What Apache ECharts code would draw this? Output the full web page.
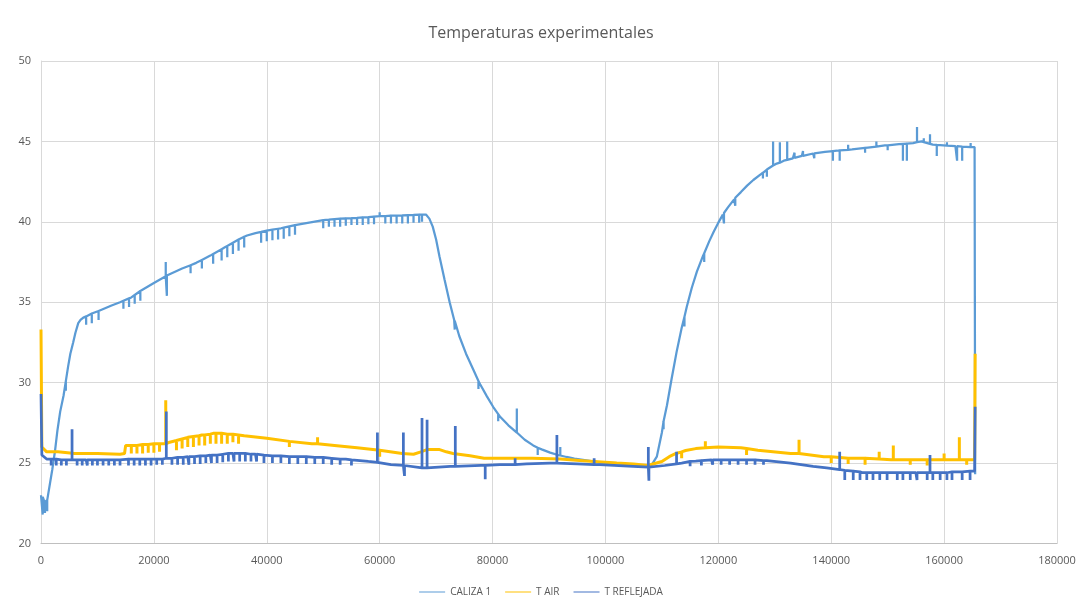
<!DOCTYPE html>
<html>
<head>
<meta charset="utf-8">
<title>Temperaturas experimentales</title>
<script src="https://cdn.jsdelivr.net/npm/echarts@6/dist/echarts.min.js"></script>
<style>
  html, body { margin: 0; padding: 0; background: #ffffff; }
  #chart { width: 1082px; height: 605px; }
</style>
</head>
<body>
<div id="chart"></div>
<script>
// Series names and axis ticks
const seriesNames = ['CALIZA 1', 'T AIR', 'T REFLEJADA'];
const xTicks = [0, 20000, 40000, 60000, 80000, 100000, 120000, 140000, 160000, 180000];
const yTicks = [20, 25, 30, 35, 40, 45, 50];

// Readings [time, temperature]
const calizaBase = [
  [0, 23.0], [600, 22.6], [1300, 22.8], [2000, 24.6], [2500, 25.8], [2900, 27.0], [3400, 28.2],
  [4000, 29.2], [4400, 30.1], [4800, 31.0], [5200, 31.8], [5700, 32.5], [6100, 33.1], [6600, 33.7],
  [7000, 33.9], [7500, 34.05], [9000, 34.3], [10500, 34.5], [12500, 34.8], [14000, 35.0],
  [16000, 35.3], [17600, 35.7], [20000, 36.2], [22500, 36.7], [25000, 37.1], [27500, 37.45],
  [30000, 37.9], [32500, 38.4], [35000, 38.9], [36500, 39.15], [38000, 39.3], [40000, 39.45],
  [42500, 39.6], [45000, 39.8], [47500, 39.95], [50000, 40.1], [53000, 40.2], [56000, 40.25],
  [60000, 40.35], [64000, 40.4], [67000, 40.45], [68200, 40.45], [68800, 40.2], [69400, 39.7],
  [70000, 38.9], [70600, 37.85], [71500, 36.4], [72400, 35.0], [73200, 33.9], [74100, 32.9],
  [75300, 31.8], [76600, 30.8], [77800, 29.9], [79000, 29.15], [80100, 28.5], [81300, 27.9],
  [82800, 27.35], [84300, 26.9], [85700, 26.45], [87200, 26.1], [88700, 25.85], [90200, 25.65],
  [91600, 25.5], [93100, 25.38], [94500, 25.28], [96000, 25.2], [97500, 25.12], [99000, 25.05],
  [102000, 25.0], [104900, 24.9], [107500, 24.8], [108300, 24.95], [109100, 25.4], [110000, 26.9],
  [110900, 28.6], [111700, 30.2], [112600, 31.9], [113500, 33.4], [114400, 34.7], [115300, 35.9],
  [116200, 36.9], [117300, 37.9], [118400, 38.8], [119200, 39.4], [120000, 39.95], [120800, 40.45],
  [121700, 40.9], [122800, 41.4], [124000, 41.85], [125100, 42.25], [126200, 42.6], [127500, 42.95],
  [128800, 43.3], [130200, 43.6], [131600, 43.8], [133200, 43.95], [134800, 44.1], [136800, 44.25],
  [138900, 44.35], [141000, 44.42], [143700, 44.5], [146500, 44.62], [149500, 44.75], [152000, 44.83],
  [154500, 44.9], [156000, 45.0], [158000, 44.8], [162000, 44.7], [165400, 44.65], [165500, 24.3]
];
const airBase = [
  [0, 33.3], [150, 26.0], [1000, 25.7], [3000, 25.7], [6000, 25.6], [10000, 25.6], [14000, 25.55],
  [14800, 25.6], [15000, 26.1], [18000, 26.15], [21500, 26.2], [22800, 26.3], [26000, 26.6],
  [28500, 26.75], [30500, 26.85], [33000, 26.8], [36000, 26.7], [40000, 26.55], [44000, 26.35],
  [48000, 26.2], [52000, 26.1], [56000, 25.95], [60000, 25.8], [64000, 25.6], [66000, 25.55],
  [67300, 25.7], [68500, 25.85], [70500, 25.85], [71800, 25.7], [73000, 25.6], [76000, 25.45],
  [78500, 25.3], [82000, 25.3], [87000, 25.3], [92000, 25.25], [96000, 25.15], [102000, 25.0],
  [105000, 24.95], [107500, 24.85], [110000, 25.1], [111300, 25.4], [112500, 25.6], [114200, 25.78],
  [116000, 25.9], [120000, 26.0], [124000, 25.95], [127000, 25.8], [132800, 25.6], [138700, 25.4],
  [144700, 25.3], [150600, 25.2], [156400, 25.2], [160000, 25.2], [165400, 25.2], [165500, 31.8]
];
const reflBase = [
  [0, 29.3], [150, 25.5], [1000, 25.25], [4000, 25.2], [8000, 25.2], [12000, 25.2], [16000, 25.25],
  [20000, 25.25], [22800, 25.3], [26000, 25.4], [30000, 25.5], [34000, 25.6], [38000, 25.55],
  [42000, 25.45], [46000, 25.4], [50000, 25.35], [54000, 25.25], [58000, 25.1], [62000, 24.9],
  [64500, 24.8], [67500, 24.7], [72500, 24.8], [78000, 24.85], [81300, 24.9], [86000, 24.95],
  [90200, 25.0], [95000, 24.95], [99000, 24.9], [104900, 24.8], [107800, 24.75], [110500, 24.85],
  [113500, 25.0], [116000, 25.12], [118800, 25.2], [124000, 25.2], [128600, 25.15], [132800, 25.0],
  [136800, 24.8], [139200, 24.7], [141500, 24.6], [145600, 24.4], [150000, 24.4], [155000, 24.4],
  [160000, 24.4], [165400, 24.5], [165500, 28.5]
];

// Single-sample outliers [time, level before/after, outlier value]
const calizaSpikes = [
  [300, 22.9, 21.8], [700, 22.6, 21.9], [1100, 22.7, 22.0], [4400, 30.1, 29.5],
  [8000, 34.12, 33.6], [9000, 34.3, 33.7], [10200, 34.46, 33.9], [14600, 35.09, 34.6],
  [15600, 35.24, 34.7], [16600, 35.45, 34.9], [17600, 35.7, 35.1],
  [22100, 36.62, 37.5], [22300, 36.66, 35.4],
  [26500, 37.3, 36.8], [28500, 37.63, 37.1], [30500, 38.0, 37.4], [32000, 38.3, 37.6],
  [33000, 38.5, 37.8], [34000, 38.7, 38.0], [35000, 38.9, 38.2], [36000, 39.07, 38.4],
  [39000, 39.37, 38.7], [40000, 39.45, 38.8], [41000, 39.51, 38.85], [42000, 39.57, 38.9],
  [43000, 39.64, 38.95], [44000, 39.72, 39.1], [45000, 39.8, 39.2],
  [50000, 40.1, 39.6], [51000, 40.13, 39.7], [52000, 40.17, 39.7], [53000, 40.2, 39.7],
  [54000, 40.22, 39.75], [55000, 40.23, 39.8], [56000, 40.25, 39.8], [57000, 40.28, 39.8],
  [58000, 40.3, 39.85], [59000, 40.33, 39.85], [60000, 40.35, 40.6], [61000, 40.36, 39.9],
  [62000, 40.38, 39.9], [63000, 40.39, 39.9], [64000, 40.4, 39.9], [65000, 40.42, 39.9],
  [66000, 40.43, 39.95], [67000, 40.45, 39.95], [67500, 40.45, 40.0],
  [73300, 33.85, 33.3], [77500, 30.1, 29.6], [81000, 28.05, 27.6], [84300, 26.9, 28.4],
  [88000, 25.95, 25.5], [92000, 25.47, 26.0],
  [110300, 27.6, 27.1], [114000, 34.1, 33.5], [117500, 38.05, 37.5], [121000, 40.55, 39.9],
  [123000, 41.5, 41.0],
  [127900, 43.05, 42.7], [128600, 43.25, 42.8], [129700, 43.5, 45.0], [130900, 43.68, 44.95],
  [132200, 43.85, 45.0], [133500, 43.98, 44.3], [135000, 44.1, 44.4], [137000, 44.26, 43.95],
  [140300, 44.4, 43.8], [141500, 44.44, 43.8], [143000, 44.48, 44.8], [146000, 44.6, 44.3],
  [148000, 44.68, 45.0], [150000, 44.76, 44.45], [152700, 44.85, 43.8], [153400, 44.87, 43.8],
  [155200, 44.95, 45.9], [156400, 44.96, 45.2], [157500, 44.85, 45.45], [158700, 44.78, 44.1],
  [160500, 44.74, 44.95], [162300, 44.7, 43.8], [163200, 44.68, 43.8], [164700, 44.65, 44.9]
];
const airSpikes = [
  [16000, 26.1, 25.6], [17000, 26.1, 25.6], [18000, 26.15, 25.6], [19000, 26.15, 25.65],
  [20000, 26.2, 25.65], [21000, 26.2, 25.7], [22100, 26.2, 28.9],
  [24000, 26.4, 25.8], [25000, 26.5, 25.9], [26000, 26.6, 26.0], [27000, 26.65, 26.0],
  [28000, 26.7, 26.1], [29000, 26.75, 26.1], [30000, 26.8, 26.2], [31000, 26.85, 26.2],
  [32000, 26.85, 26.2], [33000, 26.8, 26.2], [34000, 26.8, 26.3], [35000, 26.75, 26.2],
  [44000, 26.35, 26.0], [49000, 26.2, 26.6], [60000, 25.8, 25.4],
  [113500, 25.7, 25.3], [117700, 25.95, 26.35], [125000, 25.9, 25.5], [134300, 25.6, 26.45],
  [140000, 25.4, 25.0], [143000, 25.3, 24.95], [146000, 25.3, 24.9], [148500, 25.25, 25.7],
  [151000, 25.2, 26.1], [154000, 25.2, 24.9], [157000, 25.2, 24.85], [160000, 25.2, 25.6],
  [162700, 25.2, 26.6], [164000, 25.2, 24.9]
];
const reflSpikes = [
  [1800, 25.25, 24.85], [2700, 25.25, 24.85], [3600, 25.2, 24.85], [4500, 25.2, 24.85],
  [5500, 25.2, 27.1], [6400, 25.2, 24.85], [7300, 25.2, 24.85], [8200, 25.2, 24.85],
  [9100, 25.2, 24.85], [10000, 25.2, 24.85], [11000, 25.2, 24.85], [12000, 25.2, 24.85],
  [13000, 25.2, 24.85], [14000, 25.2, 24.85], [15500, 25.25, 24.85], [16500, 25.25, 24.85],
  [17500, 25.25, 24.85], [18500, 25.25, 24.85], [19500, 25.25, 24.85], [20500, 25.25, 24.9],
  [21500, 25.25, 24.9], [22200, 25.3, 28.2], [23200, 25.3, 24.9], [24200, 25.35, 24.9],
  [25200, 25.35, 24.9], [26200, 25.4, 24.9], [27200, 25.4, 24.95], [28200, 25.45, 24.95],
  [29200, 25.45, 25.0], [30200, 25.5, 25.0], [31200, 25.5, 25.0], [32200, 25.55, 25.05],
  [33200, 25.6, 25.1], [34200, 25.6, 25.1], [35200, 25.6, 25.1], [36200, 25.6, 25.1],
  [37200, 25.55, 25.1], [38200, 25.55, 25.1], [39500, 25.5, 25.0], [41000, 25.45, 25.0],
  [42500, 25.45, 25.0], [44000, 25.4, 24.95], [45500, 25.4, 24.95], [47000, 25.4, 24.95],
  [48500, 25.35, 24.95], [50000, 25.35, 24.95], [51500, 25.3, 24.9], [53000, 25.25, 24.9],
  [55000, 25.2, 24.85], [59600, 25.05, 26.9], [64200, 24.85, 26.9], [64400, 24.85, 24.2],
  [67500, 24.7, 27.8], [68400, 24.7, 27.7], [73400, 24.8, 27.3], [78700, 24.85, 24.0],
  [84000, 24.9, 25.3], [91400, 25.0, 26.75], [98000, 24.9, 25.3], [107600, 24.75, 26.0],
  [107700, 24.75, 23.9], [112600, 24.95, 25.7], [115000, 25.1, 24.8], [117000, 25.15, 24.85],
  [119000, 25.2, 24.9], [120500, 25.2, 24.9], [122000, 25.2, 24.9], [123500, 25.2, 24.9],
  [125000, 25.2, 24.9], [126500, 25.2, 24.9], [128000, 25.15, 24.9], [141500, 24.6, 25.7],
  [142400, 24.55, 23.95], [143900, 24.5, 23.95], [145100, 24.45, 23.95], [146300, 24.4, 23.95],
  [147400, 24.4, 23.95], [148600, 24.4, 23.95], [149900, 24.4, 23.95], [151700, 24.4, 23.95],
  [152700, 24.4, 23.95], [154000, 24.4, 23.95], [155200, 24.4, 23.95], [157000, 24.4, 23.95],
  [157500, 24.4, 25.5], [158000, 24.4, 23.95], [159300, 24.4, 23.95], [160500, 24.4, 23.95],
  [161400, 24.45, 23.95], [163200, 24.45, 23.95], [164600, 24.5, 23.95]
];

// Merge regular readings with outlier samples, ordered by time
function buildSeries(base, spikes) {
  const rows = base.map(p => ({ x: p[0], y: p[1], k: 0 }));
  spikes.forEach(s => {
    rows.push({ x: s[0], y: s[1], k: 1 }, { x: s[0], y: s[2], k: 2 }, { x: s[0], y: s[1], k: 3 });
  });
  rows.sort((a, b) => (a.x - b.x) || (a.k - b.k));
  return rows.map(r => [r.x, r.y]);
}

const colors = ['#5B9BD5', '#FFC000', '#4472C4'];
const textColor = '#595959';
const fontFamily = "'Open Sans', 'Liberation Sans', sans-serif";

const chart = echarts.init(document.getElementById('chart'), null, { renderer: 'canvas' });
chart.setOption({
  animation: false,
  backgroundColor: '#ffffff',
  color: colors,
  title: {
    text: 'Temperaturas experimentales',
    left: 'center',
    top: 20,
    textStyle: { color: textColor, fontSize: 16, fontWeight: 'normal', fontFamily: fontFamily }
  },
  legend: {
    data: seriesNames,
    top: 582,
    left: 'center',
    itemWidth: 26,
    itemHeight: 10,
    itemGap: 14,
    icon: 'path://M0,4.5 L26,4.5 L26,5.5 L0,5.5 Z',
    textStyle: { color: textColor, fontSize: 10, fontFamily: fontFamily }
  },
  grid: { left: 41, right: 25, top: 61, bottom: 61.5 },
  xAxis: {
    type: 'value',
    min: xTicks[0],
    max: xTicks[xTicks.length - 1],
    interval: xTicks[1] - xTicks[0],
    axisLine: { show: true, lineStyle: { color: '#bfbfbf', width: 1 } },
    axisTick: { show: false },
    axisLabel: {
      color: textColor, fontSize: 11, fontFamily: fontFamily, margin: 12,
      formatter: v => String(v)
    },
    splitLine: { show: true, lineStyle: { color: '#d9d9d9', width: 1 } }
  },
  yAxis: {
    type: 'value',
    min: yTicks[0],
    max: yTicks[yTicks.length - 1],
    interval: yTicks[1] - yTicks[0],
    axisLine: { show: true, lineStyle: { color: '#d9d9d9', width: 1 } },
    axisTick: { show: false },
    axisLabel: { color: textColor, fontSize: 11, fontFamily: fontFamily, margin: 10 },
    splitLine: { show: true, lineStyle: { color: '#d9d9d9', width: 1 } }
  },
  series: [
    {
      name: seriesNames[0], type: 'line', symbol: 'none', z: 2,
      lineStyle: { width: 2.25, color: colors[0] },
      data: buildSeries(calizaBase, calizaSpikes)
    },
    {
      name: seriesNames[1], type: 'line', symbol: 'none', z: 3,
      lineStyle: { width: 3, color: colors[1] },
      data: buildSeries(airBase, airSpikes)
    },
    {
      name: seriesNames[2], type: 'line', symbol: 'none', z: 4,
      lineStyle: { width: 2.75, color: colors[2] },
      data: buildSeries(reflBase, reflSpikes)
    }
  ]
});
</script>
</body>
</html>
